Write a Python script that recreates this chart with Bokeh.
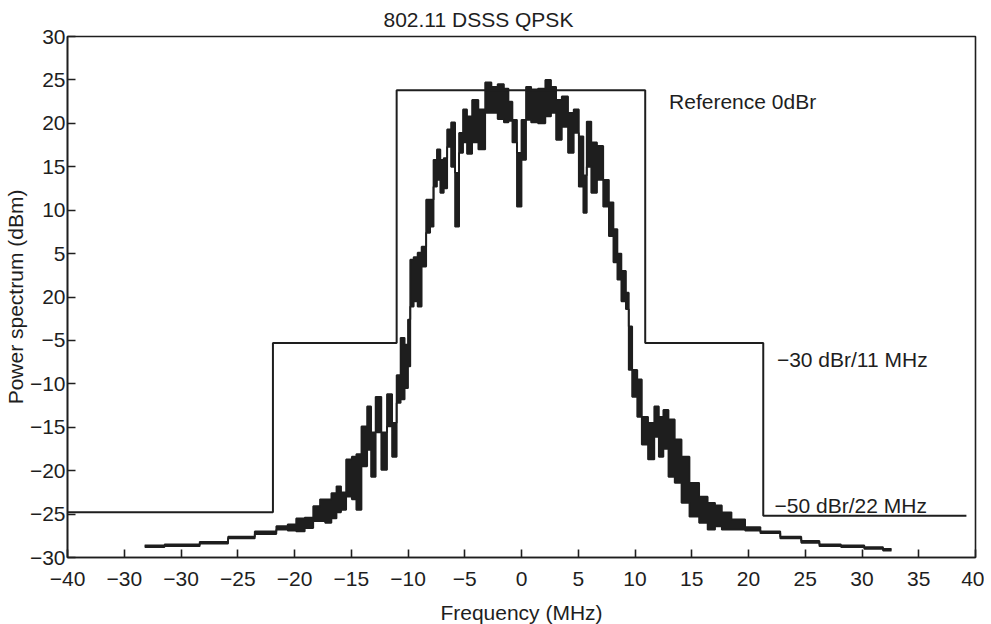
from bokeh.plotting import figure
from bokeh.models import Range1d, FixedTicker, Label
from bokeh.embed import file_html
from bokeh.resources import INLINE

# ---- data ----
x_ticks = [-40, -35, -30, -25, -20, -15, -10, -5, 0, 5, 10, 15, 20, 25, 30, 35, 40]
x_tick_labels = ["\u221240", "\u221230", "\u221230", "\u221225", "\u221220", "\u221215", "\u221210",
                 "\u22125", "0", "5", "10", "15", "20", "25", "30", "35", "40"]
y_ticks = [30, 25, 20, 15, 10, 5, 0, -5, -10, -15, -20, -25, -30]
y_tick_labels = ["30", "25", "20", "15", "10", "5", "20", "\u22125", "\u221210", "\u221215",
                 "\u221220", "\u221225", "\u221230"]

# transmit spectral mask (MHz, dBm)
mask_x = [-40, -21.9, -21.9, -11.0, -11.0, 10.9, 10.9, 21.3, 21.3, 39.2]
mask_y = [-24.8, -24.8, -5.3, -5.3, 23.8, 23.8, -5.3, -5.3, -25.2, -25.2]

# measured spectrum: envelope (upper / lower edge of the trace)
spec_x = [-33.2, -29.7, -27.0, -24.7, -22.3, -20.9, -20.3, -19.4, -18.8, -17.9, -17.6, -17.0,
          -16.5, -16.1, -15.7, -15.2, -14.7, -14.4, -13.8, -13.4, -13.1, -12.6, -12.1, -11.6,
          -11.2, -10.8, -10.5, -10.1, -9.9, -9.7, -9.3, -9.0, -8.6, -8.2, -7.9, -7.6, -7.3,
          -7.0, -6.7, -6.4, -6.0, -5.7, -5.3, -5.0, -4.6, -4.1, -3.5, -2.9, -2.4, -1.8, -1.3,
          -1.0, -0.6, -0.2, 0.2, 0.6, 1.1, 1.8, 2.4, 2.8, 3.3, 3.8, 4.4, 4.8, 5.3, 5.6, 5.9,
          6.4, 6.9, 7.5, 7.9, 8.3, 8.6, 9.0, 9.4, 9.5, 10.0, 10.4, 10.8, 11.5, 11.9, 12.3,
          12.7, 13.2, 13.8, 14.4, 15.2, 16.1, 16.7, 17.4, 17.9, 19.1, 20.3, 21.8, 23.8, 25.5,
          27.0, 29.3, 31.1, 32.6]
spec_hi = [-28.6, -28.5, -28.2, -27.6, -27.0, -26.4, -26.2, -25.5, -25.4, -24.1, -23.3, -23.3,
           -22.6, -21.8, -22.5, -18.7, -18.4, -18.1, -14.9, -12.6, -15.6, -11.5, -15.6, -11.2,
           -14.5, -9.0, -4.7, -5.5, -2.6, 4.3, 4.6, 5.1, 5.8, 11.2, 11.2, 15.8, 17.0,
           15.8, 16.0, 19.3, 20.1, 14.3, 18.9, 21.6, 20.8, 22.7, 21.6, 24.7, 24.2, 24.5, 24.0,
           22.5, 20.4, 16.6, 20.4, 24.2, 23.9, 24.0, 25.0, 24.2, 22.7, 23.1, 21.2, 21.6, 18.5,
           14.0, 20.2, 17.8, 17.4, 13.5, 10.9, 7.8, 5.0, 3.0, 0.5, -3.4, -8.4, -9.5, -13.8,
           -14.5, -12.6, -13.8, -13.0, -14.1, -16.4, -18.4, -21.4, -23.0, -23.7, -24.0, -24.8,
           -25.6, -26.5, -27.0, -27.6, -28.1, -28.5, -28.6, -28.8, -29.0]
spec_lo = [-28.8, -28.7, -28.4, -27.8, -27.3, -26.8, -26.9, -27.0, -26.6, -25.8, -25.8, -26.0,
           -25.5, -24.8, -24.5, -23.0, -23.3, -24.5, -19.5, -17.6, -20.7, -15.6, -19.9, -14.9,
           -18.4, -12.2, -11.8, -10.5, -8.0, -1.1, -0.5, -1.1, 3.5, 7.4, 8.1, 12.7, 13.5,
           12.0, 12.5, 17.3, 15.0, 8.1, 16.6, 17.8, 16.5, 17.8, 17.0, 21.2, 21.2, 20.5, 20.1,
           20.3, 17.8, 10.4, 15.8, 20.4, 20.1, 20.0, 20.8, 21.2, 18.1, 19.6, 16.6, 18.9, 12.7,
           9.7, 15.0, 12.0, 13.5, 10.4, 7.0, 4.0, 2.0, -0.5, -1.4, -8.4, -11.5, -13.8, -17.0,
           -18.7, -16.1, -18.4, -17.5, -20.7, -21.4, -23.7, -25.3, -26.0, -26.8, -26.4, -26.8,
           -26.8, -26.9, -27.2, -27.8, -28.3, -28.7, -28.8, -29.0, -29.2]

title_text = "802.11 DSSS QPSK"
x_label = "Frequency (MHz)"
y_label = "Power spectrum (dBm)"
annotations = ["Reference 0dBr", "\u221230 dBr/11 MHz", "\u221250 dBr/22 MHz"]
ann_x = [13.0, 22.5, 22.3]
ann_y = [22.5, -7.2, -24.0]

FONT = "Liberation Sans"
INK = "#1e1e1e"
FS = "21px"

p = figure(frame_width=908, frame_height=521, output_backend="svg", toolbar_location=None,
           x_range=Range1d(-40, 40), y_range=Range1d(-30, 30),
           min_border_left=58, min_border_top=36, min_border_right=9, min_border_bottom=2)
p.background_fill_color = "white"
p.border_fill_color = "white"
p.grid.visible = False
p.outline_line_color = INK
p.outline_line_width = 1.6

p.title.text = title_text
p.title.align = "left"
p.title.offset = 316
p.title.text_font = FONT
p.title.text_font_size = FS
p.title.text_font_style = "normal"
p.title.text_color = INK
p.title.standoff = 11

for ax, ticks, labels, lab in ((p.xaxis[0], x_ticks, x_tick_labels, x_label),
                               (p.yaxis[0], y_ticks, y_tick_labels, y_label)):
    ax.ticker = FixedTicker(ticks=ticks)
    ax.major_label_overrides = {t: l for t, l in zip(ticks, labels)}
    ax.major_tick_in = 8
    ax.major_tick_out = 0
    ax.minor_tick_line_color = None
    ax.major_tick_line_color = INK
    ax.major_tick_line_width = 1.6
    ax.axis_line_color = INK
    ax.axis_line_width = 1.6
    ax.major_label_text_font = FONT
    ax.major_label_text_font_size = FS
    ax.major_label_text_color = INK
    ax.axis_label = lab
    ax.axis_label_text_font = FONT
    ax.axis_label_text_font_size = FS
    ax.axis_label_text_font_style = "normal"
    ax.axis_label_text_color = INK

p.xaxis.major_label_standoff = 14
p.xaxis.axis_label_standoff = 12
p.yaxis.major_label_standoff = 2
p.yaxis.axis_label_standoff = 0

# spectrum trace (stepped, like the analyser's sampled trace)
p.varea_step(x=spec_x, y1=spec_lo, y2=spec_hi, step_mode="center", fill_color=INK)
p.step(spec_x, spec_hi, mode="center", line_color=INK, line_width=1.8)
p.step(spec_x, spec_lo, mode="center", line_color=INK, line_width=1.8)

# mask
p.line(mask_x, mask_y, line_color=INK, line_width=2)

for t, xx, yy in zip(annotations, ann_x, ann_y):
    p.add_layout(Label(x=xx, y=yy, text=t, text_font=FONT, text_font_size=FS,
                       text_color=INK, text_baseline="middle", text_align="left"))

open("out.html", "w").write(file_html(p, INLINE))
